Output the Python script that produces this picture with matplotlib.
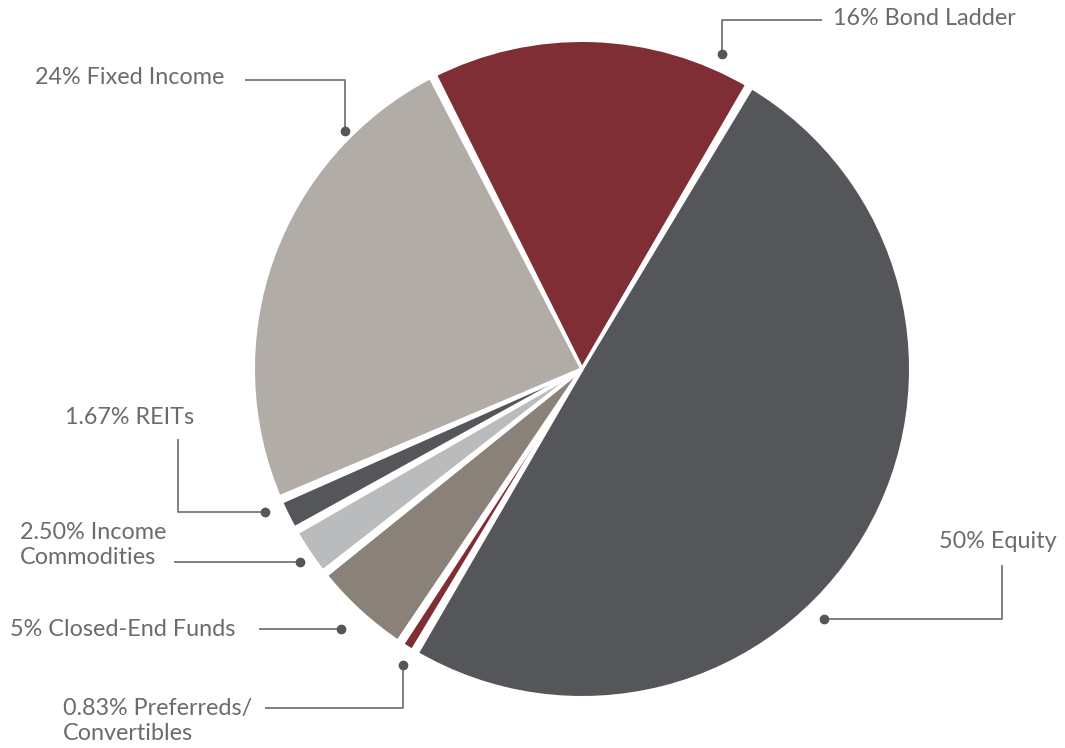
import numpy as np
import matplotlib.pyplot as plt
from matplotlib.patches import Polygon

labels = ["16% Bond Ladder", "24% Fixed Income", "1.67% REITs", "2.50% Income\nCommodities",
          "5% Closed-End Funds", "0.83% Preferreds/\nConvertibles", "50% Equity"]
values = [16, 24, 1.67, 2.50, 5, 0.83, 50]
colors = ["#7f2e35", "#b1aca6", "#55565a", "#babbbd", "#8a8279", "#7f2e35", "#55565a"]

W, H = 1065, 748
fig = plt.figure(figsize=(W / 100, H / 100), dpi=100)
ax = fig.add_axes([0, 0, 1, 1])

start = 59.4
cx, cy, r = 582, H - 369, 327
ax.pie(values, colors=colors, startangle=start, counterclock=True,
       center=(cx, cy), radius=r, wedgeprops=dict(linewidth=0))

# white gaps between slices, narrow at the centre and wider at the rim
bounds = start + 360 * np.concatenate([[0], np.cumsum(values)]) / sum(values)
w0, w1 = 3.5, 9
for a in np.deg2rad(bounds[:-1]):
    u = np.array([np.cos(a), np.sin(a)])
    n = np.array([-u[1], u[0]])
    c = np.array([cx, cy])
    pts = [c + n * w0 / 2, c + u * (r + 5) + n * w1 / 2,
           c + u * (r + 5) - n * w1 / 2, c - n * w0 / 2]
    ax.add_patch(Polygon(pts, closed=True, color="white", lw=0, zorder=3))

ax.set_xlim(0, W)
ax.set_ylim(0, H)
ax.set_aspect("equal")
ax.axis("off")

txt_col = "#6a6b6d"
line_col = "#6a6b6d"
dot_col = "#55565a"

# label text: (x, y in image px, ha)
text_pos = [(833, 18, "left"), (35, 77, "left"), (65, 417, "left"), (20, 545, "left"),
            (10, 629, "left"), (63, 721, "left"), (1057, 542, "right")]
# leader lines in image px, last point gets the dot
leaders = [
    [(822, 20), (722, 20), (722, 54)],
    [(245, 80), (345, 80), (345, 131)],
    [(178, 439), (178, 512), (265, 512)],
    [(174, 562), (300, 562)],
    [(259, 629), (341, 629)],
    [(265, 708), (403, 708), (403, 665)],
    [(1002, 565), (1002, 619), (824, 619)],
]

for lab, (tx, ty, ha), pts in zip(labels, text_pos, leaders):
    ax.text(tx, H - ty, lab, ha=ha, va="center", fontsize=16.8, family="Lato",
            color=txt_col, linespacing=1.24)
    xs = [p[0] for p in pts]
    ys = [H - p[1] for p in pts]
    ax.plot(xs, ys, color=line_col, lw=1.2, solid_capstyle="butt")
    ax.plot(xs[-1], ys[-1], "o", color=dot_col, ms=6)

fig.savefig("out.png", dpi=100)
